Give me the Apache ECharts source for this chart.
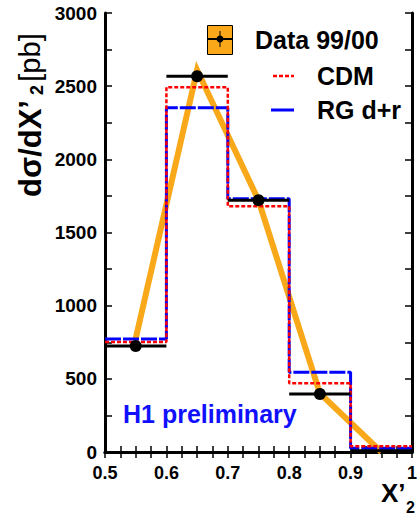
<!DOCTYPE html>
<html>
<head>
<meta charset="utf-8">
<script src="https://cdn.jsdelivr.net/npm/echarts@6/dist/echarts.min.js"></script>
<style>
  html, body { margin: 0; padding: 0; background: #fff; }
  #chart { width: 420px; height: 517px; }
</style>
</head>
<body>
<div id="chart"></div>
<script>
// bin edges in X'2 and values in pb
var binEdges = [0.5, 0.6, 0.7, 0.8, 0.9, 1.0];
var dataVals = [724, 2568, 1721, 396, 8];
var cdmVals = [752, 2493, 1680, 470, 40];
var rgVals = [772, 2352, 1730, 545, 25];
// orange band through the bin centres
var bandX = [0.55, 0.65, 0.75, 0.85, 0.95];
var bandY = [775, 2610, 1720, 400, 0];
var yTicks = [0, 500, 1000, 1500, 2000, 2500, 3000];

var FONT = 'Liberation Sans, Arial, sans-serif';

function stepData(vals) {
  var out = [];
  for (var i = 0; i < vals.length; i++) out.push([binEdges[i], vals[i]]);
  out.push([binEdges[binEdges.length - 1], vals[vals.length - 1]]);
  return out;
}

var myChart = echarts.init(document.getElementById('chart'), null, { renderer: 'svg' });

var axisLine = { lineStyle: { color: '#000', width: 3 } };
var tickStyle = { color: '#000', width: 1.5 };

myChart.setOption({
  animation: false,
  backgroundColor: '#fff',
  grid: { left: 105, right: 2, top: 13, bottom: 65 },
  xAxis: [
    {
      type: 'value', min: 0.5, max: 1.0, interval: 0.1,
      axisLine: axisLine,
      axisTick: { inside: true, length: 6, lineStyle: tickStyle },
      minorTick: { show: true, splitNumber: 4, length: 6, lineStyle: tickStyle },
      axisLabel: {
        color: '#000', fontFamily: FONT, fontWeight: 'bold', fontSize: 18, margin: 12,
        formatter: function (v) { return v === 1 ? '1' : v.toFixed(1); }
      },
      splitLine: { show: false }
    },
    {
      type: 'value', position: 'top', min: 0.5, max: 1.0, interval: 0.1,
      axisLine: axisLine,
      axisTick: { inside: true, length: 6, lineStyle: tickStyle },
      minorTick: { show: true, splitNumber: 4, length: 6, lineStyle: tickStyle },
      axisLabel: { show: false },
      splitLine: { show: false }
    }
  ],
  yAxis: [
    {
      type: 'value', min: yTicks[0], max: yTicks[yTicks.length - 1], interval: 500,
      axisLine: axisLine,
      axisTick: { inside: true, length: 7, lineStyle: tickStyle },
      minorTick: { show: true, splitNumber: 2, length: 7, lineStyle: tickStyle },
      axisLabel: {
        color: '#000', fontFamily: FONT, fontWeight: 'bold', fontSize: 19, margin: 8,
        formatter: function (v) { return String(v); }
      },
      splitLine: { show: false }
    },
    {
      type: 'value', position: 'right', min: 0, max: 3000, interval: 500,
      axisLine: axisLine,
      axisTick: { inside: true, length: 7, lineStyle: tickStyle },
      minorTick: { show: true, splitNumber: 2, length: 7, lineStyle: tickStyle },
      axisLabel: { show: false },
      splitLine: { show: false }
    }
  ],
  series: [
    {
      name: 'band', type: 'line', symbol: 'none', z: 1,
      data: bandX.map(function (x, i) { return [x, bandY[i]]; }),
      lineStyle: { color: '#f8a818', width: 6, join: 'miter' }
    },
    {
      name: 'RG d+r', type: 'line', step: 'end', symbol: 'none', z: 2,
      data: stepData(rgVals),
      lineStyle: { color: '#0000ff', width: 3, type: [16, 2] }
    },
    {
      name: 'CDM', type: 'line', step: 'end', symbol: 'none', z: 3,
      data: stepData(cdmVals),
      lineStyle: { color: '#ff0000', width: 2.5, type: [4, 2] }
    },
    {
      name: 'Data 99/00', type: 'custom', z: 5,
      data: dataVals.map(function (v, i) { return [binEdges[i], binEdges[i + 1], v, i < 4 ? 1 : 0]; }),
      encode: { x: [0, 1], y: 2 },
      renderItem: function (params, api) {
        var a = api.coord([api.value(0), api.value(2)]);
        var b = api.coord([api.value(1), api.value(2)]);
        var kids = [{
          type: 'line',
          shape: { x1: a[0], y1: a[1], x2: b[0], y2: b[1] },
          style: { stroke: '#000', lineWidth: 3 }
        }];
        if (api.value(3)) {
          kids.push({ type: 'circle', shape: { cx: (a[0] + b[0]) / 2, cy: a[1], r: 6 }, style: { fill: '#000' } });
        }
        return { type: 'group', children: kids };
      }
    }
  ],
  graphic: [
    // y axis title, reads bottom to top
    {
      type: 'text', x: 14, y: 197, rotation: Math.PI / 2,
      style: {
        text: '{b|dσ/dX’}{s| 2} {u|[pb]}',
        rich: {
          b: { fontFamily: FONT, fontWeight: 'bold', fontSize: 31, fill: '#000' },
          s: { fontFamily: FONT, fontWeight: 'bold', fontSize: 18, fill: '#000', verticalAlign: 'bottom', padding: [14, 0, 0, 0] },
          u: { fontFamily: FONT, fontSize: 29, fill: '#000' }
        }
      }
    },
    // x axis title
    {
      type: 'text', left: 381, top: 480,
      style: { text: 'X’', fontFamily: FONT, fontWeight: 'bold', fontSize: 26, fill: '#000' }
    },
    {
      type: 'text', left: 406, top: 499,
      style: { text: '2', fontFamily: FONT, fontWeight: 'bold', fontSize: 16, fill: '#000' }
    },
    // H1 preliminary
    {
      type: 'text', left: 123, top: 401,
      style: { text: 'H1 preliminary', fontFamily: FONT, fontWeight: 'bold', fontSize: 25, fill: '#1010ff' }
    },
    // legend
    {
      type: 'rect', left: 207, top: 25, shape: { width: 25, height: 29 },
      style: { fill: '#f8a818', stroke: '#000', lineWidth: 1 }
    },
    {
      type: 'line', shape: { x1: 208, y1: 39, x2: 232, y2: 39 },
      style: { stroke: '#000', lineWidth: 2 }
    },
    {
      type: 'line', shape: { x1: 220, y1: 31, x2: 220, y2: 47 },
      style: { stroke: '#000', lineWidth: 1 }
    },
    { type: 'circle', shape: { cx: 220, cy: 39, r: 3.5 }, style: { fill: '#000' } },
    {
      type: 'text', left: 255, top: 27,
      style: { text: 'Data 99/00', fontFamily: FONT, fontWeight: 'bold', fontSize: 25, fill: '#000' }
    },
    {
      type: 'line', shape: { x1: 273, y1: 76, x2: 294, y2: 76 },
      style: { stroke: '#ff0000', lineWidth: 2.5, lineDash: [4, 2] }
    },
    {
      type: 'text', left: 317, top: 63,
      style: { text: 'CDM', fontFamily: FONT, fontWeight: 'bold', fontSize: 25, fill: '#000' }
    },
    {
      type: 'line', shape: { x1: 271, y1: 110, x2: 294, y2: 110 },
      style: { stroke: '#0000ff', lineWidth: 3 }
    },
    {
      type: 'text', left: 317, top: 97,
      style: { text: 'RG d+r', fontFamily: FONT, fontWeight: 'bold', fontSize: 25, fill: '#000' }
    }
  ]
});
</script>
</body>
</html>
